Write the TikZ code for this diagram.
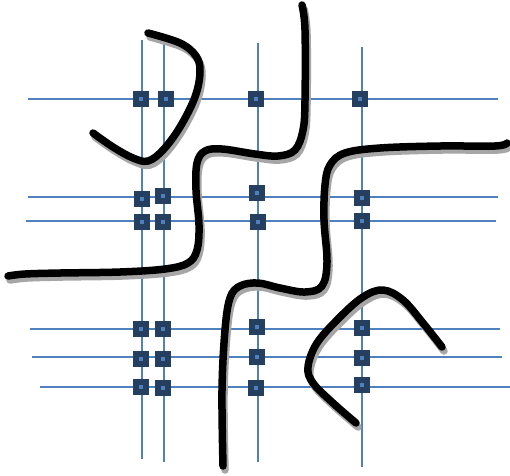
\documentclass[tikz,border=0pt]{standalone}
\usepackage{tikz}
\usetikzlibrary{positioning}
\definecolor{gridblue}{HTML}{4F81BD}
\definecolor{padnavy}{HTML}{243F60}
\definecolor{padcore}{HTML}{4F81BD}

\begin{document}
\begin{tikzpicture}[x=1pt,y=-1pt,
    grid/.style={gridblue, line width=1.8pt},
    pad/.style={draw=padnavy, line width=5.5pt, fill=padcore, minimum size=10pt, inner sep=0pt, outer sep=0pt},
    wire/.style={line width=7.5pt, line cap=round, line join=round},
    wireshadow/.style={wire, gray!70, shift={(2,4)}}]
    \useasboundingbox (0,0) rectangle (510,475);
    \draw[grid] (142,40) -- (142,459);
    \draw[grid] (164,43) -- (164,462);
    \draw[grid] (258,43) -- (258,462);
    \draw[grid] (362,47) -- (362,467);
    \draw[grid] (28,99) -- (498,99);
    \draw[grid] (28,197) -- (498,197);
    \draw[grid] (26,221) -- (496,221);
    \draw[grid] (30,329) -- (500,329);
    \draw[grid] (32,357) -- (502,357);
    \draw[grid] (40,387) -- (510,387);
    \foreach \px/\py [count=\i] in {141/99, 166/99, 256/99, 360/99,
        142/199, 163/196, 257/193, 362/198,
        142/222, 163/222, 258/222, 362/221,
        141/329, 163/329, 257/327, 362/328,
        141/359, 163/359, 257/357, 362/358,
        141/387, 163/388, 256/388, 362/385}
        \node[pad] (pad\i) at (\px,\py) {};
    \foreach \s in {wireshadow, wire} {
        \draw[\s] plot[smooth, tension=0.6] coordinates {(93,133) (113,147) (133,158) (148,161) (163,150) (180,127) (195,97) (200,72) (196,56) (180,43) (148,33)};
        \draw[\s] plot[smooth, tension=0.6] coordinates {(302,5) (305,30) (305,100) (303,130) (295,150) (278,156) (255,154) (222,149) (205,151) (197,163) (196,190) (199,225) (197,250) (188,263) (165,269) (120,272) (60,273) (25,274) (8,276)};
        \draw[\s] plot[smooth, tension=0.6] coordinates {(507,143) (495,146) (440,146) (380,148) (345,153) (330,165) (325,185) (324,220) (327,262) (322,286) (305,292) (280,288) (258,283) (240,286) (230,298) (225,330) (222,390) (223,466)};
        \draw[\s] plot[smooth, tension=0.6] coordinates {(442,347) (423,323) (403,300) (383,290) (363,297) (340,317) (317,343) (308,367) (313,383) (333,403) (356,423)};
    }
\end{tikzpicture}
\end{document}
